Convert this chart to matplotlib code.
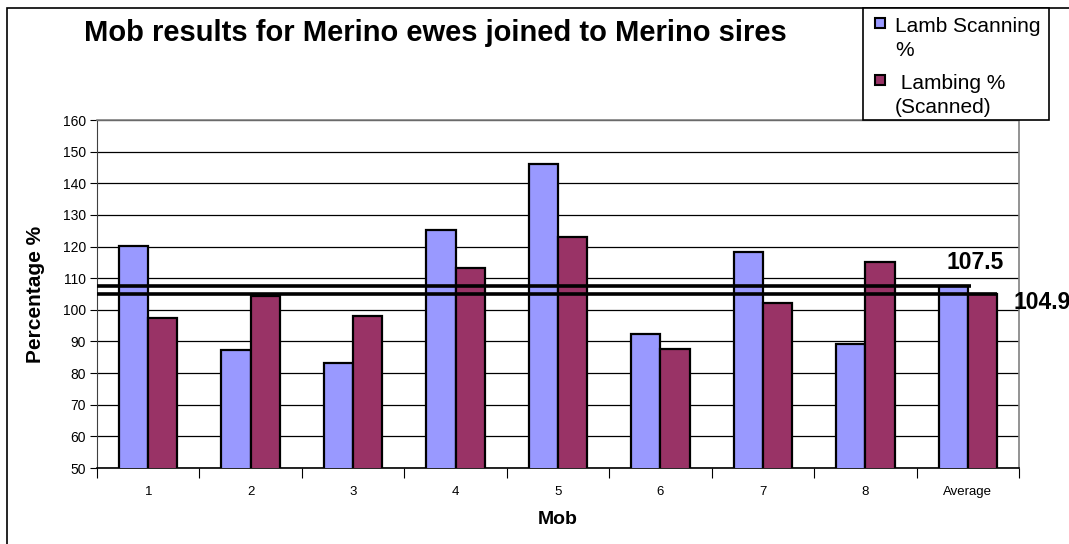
import numpy as np
import matplotlib.pyplot as plt
from matplotlib.patches import Rectangle

plt.rcParams['font.family'] = ['Liberation Sans', 'DejaVu Sans']

# Data
mobs = ['1', '2', '3', '4', '5', '6', '7', '8', 'Average']
scanning = [120.3, 87.3, 83.2, 125.1, 146.2, 92.2, 118.3, 89.3, 107.5]
lambing = [97.3, 104.5, 98.2, 113.2, 123.1, 87.5, 102.2, 115.1, 104.9]
avg_scanning = 107.5
avg_lambing = 104.9
legend_labels = ['Lamb Scanning\n%', ' Lambing %\n(Scanned)']

blue = '#9999FF'
red = '#993366'

W, H = 1069, 544


def fx(px):
    return px / W


def fy(py):
    return 1 - py / H


fig = plt.figure(figsize=(W / 100, H / 100), dpi=100)
ax = fig.add_axes([fx(97), fy(468), fx(1019 - 97), (468 - 120) / H])

x = np.arange(len(mobs))
w = 1 / 3.5
ax.bar(x - w / 2, scanning, w, color=blue, edgecolor='black', linewidth=1.6, zorder=3)
ax.bar(x + w / 2, lambing, w, color=red, edgecolor='black', linewidth=1.6, zorder=3)

# average lines
ax.plot([-0.5, 8.03], [avg_scanning, avg_scanning], color='black', lw=2.6, zorder=4,
        solid_capstyle='butt')
ax.plot([-0.5, 8 + w], [avg_lambing, avg_lambing], color='black', lw=2.6, zorder=4,
        solid_capstyle='butt')
ax.text(8.07, avg_scanning + 7.3, f'{avg_scanning}', ha='center', va='center',
        fontsize=16.5, fontweight='bold', zorder=5)
ax.text(8.445, avg_lambing - 2.7, f'{avg_lambing}', ha='left', va='center',
        fontsize=16.5, fontweight='bold', zorder=5, clip_on=False)

ax.set_ylim(50, 160)
ax.set_xlim(-0.5, 8.5)
ax.set_yticks(np.arange(50, 161, 10))
ax.yaxis.grid(True, color='black', lw=0.9, zorder=0)
ax.set_axisbelow(True)
ax.tick_params(axis='y', labelsize=10, length=5, color='black', width=0.8, pad=3)

ax.set_xticks(x)
ax.set_xticklabels(mobs, fontsize=9.5)
ax.set_xticks(np.arange(-0.5, 9, 1), minor=True)
ax.tick_params(axis='x', which='major', length=0, pad=13)
ax.tick_params(axis='x', which='minor', length=7, width=0.8)

for s in ['top', 'right']:
    ax.spines[s].set_color('#808080')
    ax.spines[s].set_linewidth(1.2)
ax.spines['left'].set_color('#404040')
ax.spines['bottom'].set_linewidth(1.2)

ax.set_ylabel('Percentage %', fontsize=15, fontweight='bold', labelpad=13)
ax.set_xlabel('Mob', fontsize=14, fontweight='bold', labelpad=9)

fig.text(fx(435), fy(33), 'Mob results for Merino ewes joined to Merino sires',
         ha='center', va='center', fontsize=21, fontweight='bold')

# chart border
fig.patches.append(Rectangle((fx(7), -0.1), 1.2, fy(8) + 0.1,
                             transform=fig.transFigure, fill=False,
                             edgecolor='black', lw=1.2))

# legend box drawn by hand
fig.patches.append(Rectangle((fx(863), fy(120)), fx(1049 - 863), (120 - 8) / H,
                             transform=fig.transFigure, facecolor='white',
                             edgecolor='black', lw=1.2, zorder=6))
for color, label, top in zip([blue, red], legend_labels, [18, 75]):
    fig.patches.append(Rectangle((fx(875), fy(top + 10)), fx(10), 10 / H,
                                 transform=fig.transFigure, facecolor=color,
                                 edgecolor='black', lw=1.5, zorder=7))
    lines = label.split('\n')
    for i, line in enumerate(lines):
        fig.text(fx(895), fy(top + 14 + i * 24), line, ha='left', va='baseline',
                 fontsize=15, zorder=8)

fig.savefig('out.png', dpi=100)
